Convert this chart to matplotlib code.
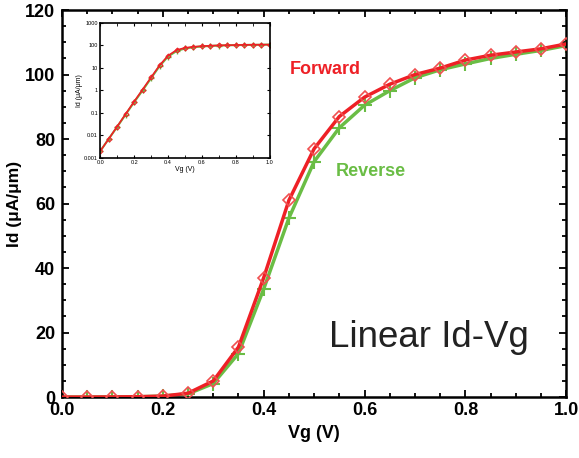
import matplotlib
matplotlib.use("Agg")
import matplotlib.pyplot as plt
import numpy as np
from matplotlib.ticker import MultipleLocator

plt.rcParams['font.family'] = ['Liberation Sans', 'DejaVu Sans']

# main data (linear Id-Vg)
vg = [0.0, 0.05, 0.1, 0.15, 0.2, 0.25, 0.3, 0.35, 0.4, 0.45, 0.5,
      0.55, 0.6, 0.65, 0.7, 0.75, 0.8, 0.85, 0.9, 0.95, 1.0]
id_fwd = [0.0, 0.0, 0.05, 0.1, 0.3, 1.2, 5.0, 15.5, 37.0, 61.0, 77.0,
          87.0, 93.0, 97.0, 100.0, 102.0, 104.5, 106.0, 107.0, 108.0, 109.5]
id_rev = [0.0, 0.0, 0.05, 0.1, 0.3, 1.0, 4.2, 13.5, 33.5, 55.5, 73.0,
          83.5, 90.5, 95.0, 99.0, 101.5, 103.3, 105.0, 106.3, 107.5, 109.0]

# inset data (log scale)
vg_log = [0.0, 0.05, 0.1, 0.15, 0.2, 0.25, 0.3, 0.35, 0.4, 0.45, 0.5,
          0.55, 0.6, 0.65, 0.7, 0.75, 0.8, 0.85, 0.9, 0.95, 1.0]
id_log_fwd = [0.002, 0.007, 0.025, 0.09, 0.32, 1.1, 3.8, 13, 35, 62, 78,
              87, 93, 97, 100, 102, 104, 106, 107, 108, 109]
id_log_rev = [0.002, 0.007, 0.024, 0.085, 0.3, 1.0, 3.5, 12, 32, 56, 73,
              83, 90, 95, 99, 101, 103, 105, 106, 107, 109]

red = '#ee2026'
green = '#6abd45'

fig = plt.figure(figsize=(5.79, 4.58), dpi=100)
ax = fig.add_axes([0.107, 0.133, 0.871, 0.845])

ax.plot(vg, id_rev, color=green, lw=2.5, marker='+', ms=10, mew=1.5, zorder=2)
ax.plot(vg, id_fwd, color=red, lw=2.5, marker='D', ms=6, mfc='none',
        mec='#f05050', mew=1.2, zorder=3)

ax.set_xlim(0, 1.0)
ax.set_ylim(0, 120)
ax.xaxis.set_major_locator(MultipleLocator(0.2))
ax.xaxis.set_minor_locator(MultipleLocator(0.05))
ax.yaxis.set_major_locator(MultipleLocator(20))
ax.yaxis.set_minor_locator(MultipleLocator(5))
ax.tick_params(which='both', direction='in', top=True, right=True, width=1.3)
ax.tick_params(which='major', length=5, labelsize=13)
ax.tick_params(which='minor', length=3)
ax.tick_params(axis='y', pad=5)
for lab in ax.get_xticklabels() + ax.get_yticklabels():
    lab.set_fontweight('bold')
for s in ax.spines.values():
    s.set_linewidth(1.8)
ax.set_xticks([0, 0.2, 0.4, 0.6, 0.8, 1.0])
ax.set_xticklabels(['0.0', '0.2', '0.4', '0.6', '0.8', '1.0'], fontweight='bold')
ax.set_xlabel('Vg (V)', fontsize=13, fontweight='bold', labelpad=4)
ax.set_ylabel('Id (\u03bcA/\u03bcm)', fontsize=12.5, fontweight='bold', labelpad=2)

ax.text(0.452, 0.835, 'Forward', transform=ax.transAxes, color=red,
        fontsize=13, fontweight='bold')
ax.text(0.542, 0.57, 'Reverse', transform=ax.transAxes, color=green,
        fontsize=13, fontweight='bold')
ax.text(0.53, 0.13, 'Linear Id-Vg', transform=ax.transAxes, color='#222222',
        fontsize=26.5)

# inset
ins = fig.add_axes([0.173, 0.655, 0.293, 0.295])
ins.semilogy(vg_log, id_log_rev, color=green, lw=1.5, marker='+', ms=4, mew=1)
ins.semilogy(vg_log, id_log_fwd, color=red, lw=1.2, marker='D', ms=2.5,
             mfc='none', mec=red, mew=0.8)
ins.set_xlim(0, 1.0)
ins.set_ylim(0.001, 1000)
ins.set_xticks([0, 0.2, 0.4, 0.6, 0.8, 1.0])
ins.set_xticklabels(['0.0', '0.2', '0.4', '0.6', '0.8', '1.0'])
ins.set_yticks([0.001, 0.01, 0.1, 1, 10, 100, 1000])
ins.set_yticklabels(['0.001', '0.01', '0.1', '1', '10', '100', '1000'])
ins.minorticks_off()
ins.xaxis.set_minor_locator(MultipleLocator(0.1))
ins.tick_params(which='both', direction='in', top=True, right=True,
                labelsize=4, length=2, pad=1.5)
for s in ins.spines.values():
    s.set_linewidth(1.2)
ins.set_xlabel('Vg (V)', fontsize=5, labelpad=1)
ins.set_ylabel('Id (\u03bcA/\u03bcm)', fontsize=5, labelpad=1)

fig.savefig('out.png', dpi=100)
